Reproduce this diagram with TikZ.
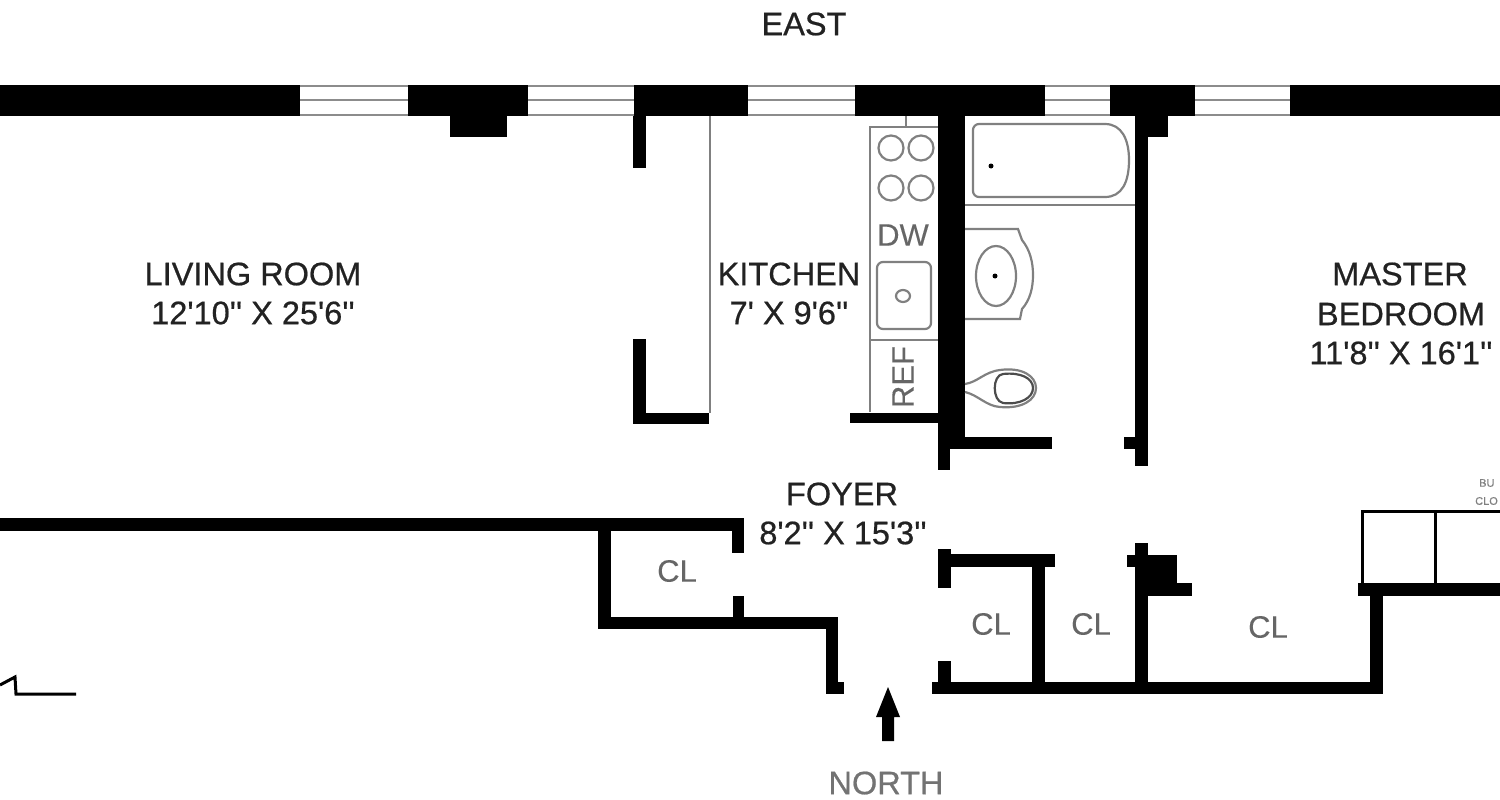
\documentclass[tikz,border=0pt]{standalone}
\usepackage{fontspec}
\newfontfamily\planfont[FakeBold=0.6]{Liberation Sans}
\newfontfamily\tagfont[FakeBold=0.2]{Liberation Sans}
\definecolor{inkdark}{HTML}{222222}
\definecolor{inkgray}{HTML}{666666}
\definecolor{fixture}{HTML}{808080}
\begin{document}
\begin{tikzpicture}[x=1pt,y=-1pt,
 wall/.style={fill=black,draw=none},
 glass/.style={draw=black!45,line width=2.5pt},
 fixt/.style={draw=fixture,line width=2.2pt,fill=none},
 room/.style={text=inkdark,font=\planfont\fontsize{32.5}{36}\selectfont,inner sep=0pt},
 tag/.style={text=inkgray,font=\tagfont\fontsize{31}{36}\selectfont,inner sep=0pt},
 tiny/.style={text=black!50,font=\tagfont\fontsize{11}{13}\selectfont,inner sep=0pt,anchor=west}]
 \useasboundingbox (0,0) rectangle (1500,800);

 % east wall with windows
 \foreach \xa/\xb in {300/408,528/634,748/855,1045/1110,1195/1290}{
  \draw[glass] (\xa,86) -- (\xb,86);
  \draw[glass] (\xa,100) -- (\xb,100);
  \draw[glass] (\xa,115) -- (\xb,115);
 }
 \fill[wall] (0,85) rectangle (300,116);
 \fill[wall] (408,85) rectangle (528,116);
 \fill[wall] (450,116) rectangle (507,137);
 \fill[wall] (634,85) rectangle (748,116);
 \fill[wall] (855,85) rectangle (1045,116);
 \fill[wall] (1110,85) rectangle (1195,116);
 \fill[wall] (1290,85) rectangle (1500,116);

 % living room and kitchen partitions
 \fill[wall] (633,116) rectangle (646,168);
 \fill[wall] (633,339) rectangle (646,424);
 \fill[wall] (633,413) rectangle (709,424);
 \draw[fixt] (710,116) -- (710,413);
 \fill[wall] (850,413) rectangle (938,423);

 % bathroom walls
 \fill[wall] (938,116) rectangle (965,438);
 \fill[wall] (938,438) rectangle (950,470);
 \fill[wall] (950,437) rectangle (1052,449);
 \fill[wall] (1135,116) rectangle (1148,466);
 \fill[wall] (1135,116) rectangle (1168,137);
 \fill[wall] (1124,437) rectangle (1135,449);

 % kitchen fixtures
 \draw[fixt] (938,127) -- (870,127) -- (870,412);
 \draw[fixt] (906,116) -- (906,127);
 \draw[fixt] (870,340) -- (938,340);
 \draw[fixt] (891,148) circle (12.5);
 \draw[fixt] (921,148) circle (12.5);
 \draw[fixt] (891,188) circle (12.5);
 \draw[fixt] (921,188) circle (12.5);
 \draw[fixt,rounded corners=6pt] (877,262) rectangle (931,329);
 \draw[fixt] (903,296) ellipse (7 and 6);

 % tub, vanity, toilet
 \draw[fixt] (965,205) -- (1135,205);
 \draw[fixt,rounded corners=6pt] (1105,124) -- (973,124) -- (973,197) -- (1105,197);
 \draw[fixt] (1105,124) .. controls (1122,124) and (1129,140) .. (1129,160)
  .. controls (1129,182) and (1122,197) .. (1105,197);
 \fill[black] (991,166) circle (2.5);
 \draw[fixt] (965,229) -- (1018,229) -- (1022,240) .. controls (1030,250) and (1033,262) .. (1033,275)
  .. controls (1033,288) and (1030,300) .. (1022,309) -- (1020,319) -- (965,319);
 \draw[fixt] (996,276) ellipse (20 and 30);
 \fill[black] (995,276) circle (2.5);
 \draw[fixt] (965,384) .. controls (978,382) and (984,372) .. (1000,370)
  .. controls (1022,367) and (1036,376) .. (1036,388)
  .. controls (1036,400) and (1022,409) .. (1000,407)
  .. controls (986,406) and (978,395) .. (965,392);
 \draw[fixt,draw=black!70] (1003,374) .. controls (992,375) and (992,401) .. (1003,403)
  .. controls (1020,405) and (1033,398) .. (1033,388)
  .. controls (1033,378) and (1020,372) .. (1003,374);

 % foyer and closet walls
 \fill[wall] (0,518) rectangle (744,531);
 \fill[wall] (732,531) rectangle (744,553);
 \fill[wall] (598,531) rectangle (611,629);
 \fill[wall] (598,617) rectangle (838,629);
 \fill[wall] (733,596) rectangle (744,617);
 \fill[wall] (826,629) rectangle (838,694);
 \fill[wall] (826,682) rectangle (844,694);
 \fill[wall] (938,549) rectangle (951,588);
 \fill[wall] (951,554) rectangle (1055,567);
 \fill[wall] (1032,567) rectangle (1045,682);
 \fill[wall] (938,661) rectangle (951,682);
 \fill[wall] (932,682) rectangle (1383,694);
 \fill[wall] (1135,543) rectangle (1148,682);
 \fill[wall] (1127,555) rectangle (1177,567);
 \fill[wall] (1148,555) rectangle (1177,585);
 \fill[wall] (1148,583) rectangle (1192,596);
 \fill[wall] (1370,596) rectangle (1383,682);
 \fill[wall] (1358,583) rectangle (1500,596);
 \draw[black,line width=3pt] (1362,583) -- (1362,511) -- (1500,511);
 \draw[black,line width=3pt] (1435,511) -- (1435,583);

 % stair remnant
 \coordinate (stairA) at (0,685);
 \coordinate (stairB) at (15,677);
 \coordinate (stairC) at (16,694);
 \coordinate (stairD) at (76,694);
 \draw[black,line width=3pt] (stairA) -- (stairB) -- (stairC) -- (stairD);

 % entry arrow
 \fill[wall] (888,687) -- (900,717) -- (894,717) -- (894,741) -- (882,741) -- (882,717) -- (876,717) -- cycle;

 % labels
 \node[room] (east) at (804,24) {EAST};
 \node[room] (living) at (253,274) {LIVING ROOM};
 \node[room] (livingsize) at (253,313) {12'10'' X 25'6''};
 \node[room] (kitchen) at (789,274) {KITCHEN};
 \node[room] (kitchensize) at (789,313) {7' X 9'6''};
 \node[room] (master) at (1400,274) {MASTER};
 \node[room] (bedroom) at (1401,314) {BEDROOM};
 \node[room] (bedroomsize) at (1401,353) {11'8'' X 16'1''};
 \node[room] (foyer) at (842,494) {FOYER};
 \node[room] (foyersize) at (843,533) {8'2'' X 15'3''};
 \node[tag] (dw) at (903,235) {DW};
 \node[tag,rotate=90] (ref) at (903,377) {REF};
 \node[tag] (cla) at (677,571) {CL};
 \node[tag] (clb) at (991,624) {CL};
 \node[tag] (clc) at (1091,624) {CL};
 \node[tag] (cld) at (1268,627) {CL};
 \node[room,text=black!55] (north) at (886,783) {NORTH};
 \node[tiny] (bua) at (1479,483) {BU};
 \node[tiny] (clo) at (1475,501) {CLO};
\end{tikzpicture}
\end{document}
